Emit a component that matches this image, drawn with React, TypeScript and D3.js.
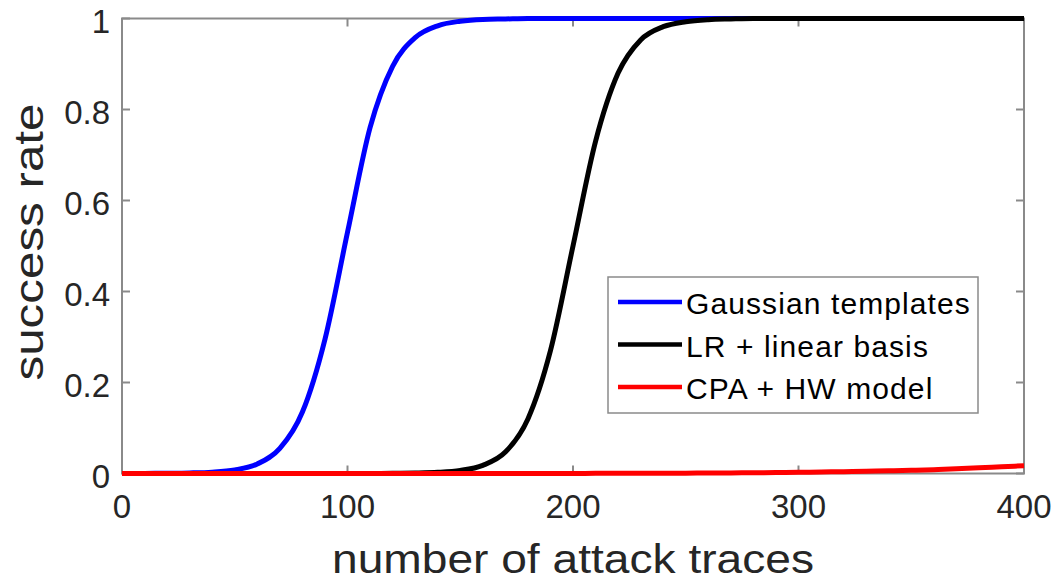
import { scaleLinear, line, curveMonotoneX } from "d3";

// number of attack traces (shared x grid)
const traces = [
  0, 10, 20, 30, 40, 50, 60, 70, 80, 90, 100, 110, 120, 130, 140, 150, 160, 170, 180, 190,
  200, 210, 220, 230, 240, 250, 260, 270, 280, 290, 300, 310, 320, 330, 340, 350, 360, 370, 380, 390, 400,
];

const gaussianTemplates = [
  0, 0.0002, 0.0005, 0.0012, 0.003, 0.008, 0.021, 0.055, 0.135, 0.295, 0.53, 0.76, 0.895, 0.958, 0.984,
  0.994, 0.998, 0.999, 1, 1, 1, 1, 1, 1, 1, 1, 1, 1, 1, 1, 1, 1, 1, 1, 1, 1, 1, 1, 1, 1, 1,
];

const lrLinearBasis = [
  0, 0, 0, 0, 0, 0, 0, 0, 0, 0, 0.0001, 0.0002, 0.0004, 0.001, 0.0025, 0.0067, 0.018, 0.047, 0.12, 0.27,
  0.5, 0.73, 0.88, 0.953, 0.982, 0.993, 0.9975, 0.999, 1, 1, 1, 1, 1, 1, 1, 1, 1, 1, 1, 1, 1,
];

const cpaHwModel = [
  0, 0, 0, 0, 0, 0, 0, 0, 0, 0, 0, 0, 0, 0, 0, 0, 0, 0, 0, 0,
  0.0002, 0.0003, 0.0004, 0.0005, 0.0007, 0.0008, 0.001, 0.0013, 0.0017, 0.0021, 0.0027, 0.0033, 0.004,
  0.0049, 0.0058, 0.007, 0.0085, 0.0103, 0.0125, 0.0148, 0.017,
];

const seriesNames = ["Gaussian templates", "LR + linear basis", "CPA + HW model"];
const seriesColors = ["#0000ff", "#000000", "#ff0000"];
const seriesValues = [gaussianTemplates, lrLinearBasis, cpaHwModel];

const xTicks = [0, 100, 200, 300, 400];
const yTicks = [0, 0.2, 0.4, 0.6, 0.8, 1];

const W = 1053;
const H = 586;
const left = 122;
const right = 1024;
const top = 18.5;
const bottom = 473.5;
const font = "'Liberation Sans', Arial, Helvetica, sans-serif";
const axisColor = "#8a8a8a";
const textColor = "#262626";

export default function App() {
  const x = scaleLinear().domain([0, 400]).range([left, right]);
  const y = scaleLinear().domain([0, 1]).range([bottom, top]);

  const lineGen = (vals: number[]) =>
    line<number>()
      .x((_, i) => x(traces[i]))
      .y((d) => y(d))
      .curve(curveMonotoneX)(vals) || "";

  // legend box
  const lgX = 608;
  const lgY = 277;
  const lgW = 370;
  const lgH = 136;

  return (
    <svg
      width={W}
      height={H}
      style={{ position: "absolute", left: 0, top: 0, background: "#fff" }}
      fontFamily={font}
    >
      {/* axes box */}
      <rect x={left} y={top} width={right - left} height={bottom - top} fill="none" stroke={axisColor} strokeWidth={2} />
      {xTicks.map((t) => (
        <g key={"x" + t}>
          <line x1={x(t)} x2={x(t)} y1={bottom} y2={bottom - 8} stroke={axisColor} strokeWidth={2} />
          <line x1={x(t)} x2={x(t)} y1={top} y2={top + 8} stroke={axisColor} strokeWidth={2} />
          <text x={x(t)} y={518} textAnchor="middle" fontSize={33} fill={textColor}>
            {t}
          </text>
        </g>
      ))}
      {yTicks.map((t) => (
        <g key={"y" + t}>
          <line x1={left} x2={left + 8} y1={y(t)} y2={y(t)} stroke={axisColor} strokeWidth={2} />
          <line x1={right} x2={right - 8} y1={y(t)} y2={y(t)} stroke={axisColor} strokeWidth={2} />
          <text x={110} y={y(t) + 14} textAnchor="end" fontSize={33} fill={textColor}>
            {String(t)}
          </text>
        </g>
      ))}

      {/* series */}
      {seriesValues.map((vals, i) => (
        <path key={seriesNames[i]} d={lineGen(vals)} fill="none" stroke={seriesColors[i]} strokeWidth={5} strokeLinejoin="round" />
      ))}

      {/* axis labels */}
      <text
        x={(left + right) / 2}
        y={573}
        textAnchor="middle"
        fontSize={41}
        fill={textColor}
        textLength={482}
        lengthAdjust="spacingAndGlyphs"
      >
        number of attack traces
      </text>
      <text
        transform={`translate(43, ${(top + bottom) / 2 - 4}) rotate(-90)`}
        textAnchor="middle"
        fontSize={41}
        fill={textColor}
        textLength={277}
        lengthAdjust="spacingAndGlyphs"
      >
        success rate
      </text>

      {/* legend */}
      <rect x={lgX} y={lgY} width={lgW} height={lgH} fill="#fff" stroke={axisColor} strokeWidth={1.5} />
      {seriesNames.map((name, i) => {
        const ly = 302 + i * 42.5;
        return (
          <g key={"lg" + name}>
            <line x1={618} x2={682} y1={ly} y2={ly} stroke={seriesColors[i]} strokeWidth={4.5} />
            <text x={686} y={ly + 12} fontSize={30} letterSpacing={1.1} fill="#000">
              {name}
            </text>
          </g>
        );
      })}
    </svg>
  );
}
